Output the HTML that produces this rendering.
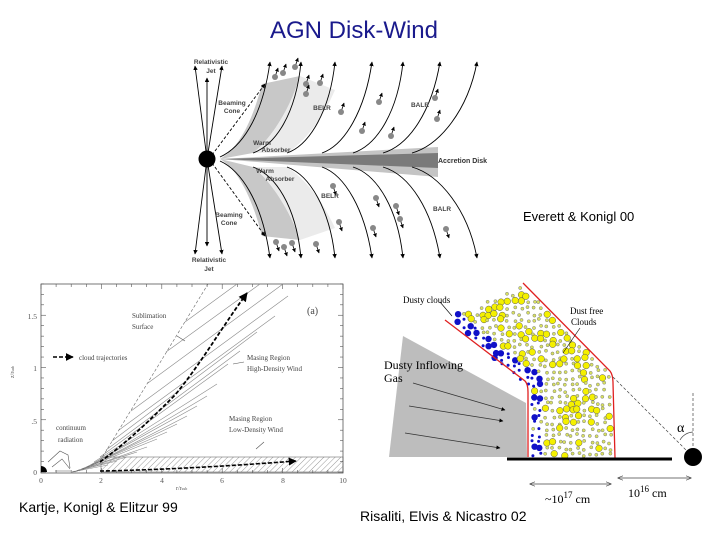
<!DOCTYPE html>
<html><head><meta charset="utf-8"><style>
html,body{margin:0;padding:0;background:#fff;}
svg{display:block;font-family:"Liberation Sans",sans-serif;}
.s{font-family:"Liberation Serif",serif;}
</style></head><body>
<svg id="c" width="720" height="540" viewBox="0 0 720 540" xmlns="http://www.w3.org/2000/svg">
<defs>
<marker id="ah" viewBox="0 0 10 10" refX="9" refY="5" markerWidth="5" markerHeight="5" orient="auto"><path d="M0,0L10,5L0,10z" fill="#000"/></marker>
<marker id="ao" viewBox="0 0 10 10" refX="9" refY="5" markerWidth="7" markerHeight="7" orient="auto"><path d="M0,1L10,5L0,9" fill="none" stroke="#444" stroke-width="1.2"/></marker>
<marker id="ao2" viewBox="0 0 10 10" refX="1" refY="5" markerWidth="7" markerHeight="7" orient="auto"><path d="M10,1L0,5L10,9" fill="none" stroke="#444" stroke-width="1.2"/></marker>
<pattern id="hatch" width="4" height="4" patternUnits="userSpaceOnUse" patternTransform="rotate(45)"><line x1="0" y1="0" x2="0" y2="4" stroke="#555" stroke-width="0.6"/></pattern>
</defs>
<text x="354" y="38" text-anchor="middle" font-size="24" fill="#1a1a8c">AGN Disk-Wind</text>

<!-- Panel 1 -->
<g id="p1">
<path d="M220,159 C235,150 250,130 262,84 L300,76 C290,110 270,140 253,153 Z" fill="#c8c8c8"/>
<path d="M253,153 C270,140 290,110 300,76 L335,90 C320,125 300,145 287,153 Z" fill="#ebebeb"/>
<path d="M220,159 C235,168 250,190 262,236 L300,240 C290,210 270,180 253,167 Z" fill="#c8c8c8"/>
<path d="M253,167 C270,180 290,210 300,240 L335,228 C320,195 300,175 287,167 Z" fill="#ebebeb"/>
<path d="M220,159 L438,147 L438,177 Z" fill="#c4c4c4"/>
<path d="M220,159 L438,153 L438,168 Z" fill="#7a7a7a"/>
<text x="438" y="163" font-size="7" font-weight="bold" fill="#333">Accretion Disk</text>
<g stroke="#000" stroke-width="0.9" fill="none" marker-end="url(#ah)">
<line x1="207" y1="159" x2="195" y2="66"/><line x1="207" y1="159" x2="207" y2="78"/><line x1="207" y1="159" x2="222" y2="66"/>
<line x1="207" y1="159" x2="195" y2="254"/><line x1="207" y1="159" x2="207" y2="246"/><line x1="207" y1="159" x2="222" y2="254"/>
<path d="M220,157 C240,148 262,120 270,62"/><path d="M253,153 C275,145 296,115 301,62"/><path d="M287,153 C310,145 330,110 335,62"/><path d="M322,153 C345,145 365,110 372,62"/><path d="M353,153 C378,145 398,110 403,62"/><path d="M383,153 C410,145 432,110 440,62"/><path d="M412,153 C440,145 468,110 477,62"/>
<path d="M220,161 C240,170 262,200 270,258"/><path d="M253,167 C275,175 296,205 301,258"/><path d="M287,167 C310,175 330,210 335,258"/><path d="M322,167 C345,175 365,210 372,258"/><path d="M353,167 C378,175 398,210 403,258"/><path d="M383,167 C410,175 432,210 440,258"/><path d="M412,167 C440,175 468,210 477,258"/>
</g>
<g stroke="#000" stroke-width="0.9" stroke-dasharray="3,2" fill="none" marker-end="url(#ah)">
<line x1="212" y1="155" x2="265" y2="84"/><line x1="212" y1="163" x2="265" y2="236"/>
</g>
<circle cx="207" cy="159" r="8.5" fill="#000"/>
<g id="dots"></g>
<g font-size="6.5" font-weight="bold" fill="#444" text-anchor="middle">
<text x="211" y="64">Relativistic</text><text x="211" y="73">Jet</text>
<text x="209" y="262">Relativistic</text><text x="209" y="271">Jet</text>
<text x="232" y="105">Beaming</text><text x="232" y="113">Cone</text>
<text x="229" y="217">Beaming</text><text x="229" y="225">Cone</text>
<text x="322" y="110">BELR</text><text x="420" y="107">BALR</text>
<text x="330" y="198">BELR</text><text x="442" y="211">BALR</text>
<text x="262" y="145">Warm</text><text x="276" y="152">Absorber</text>
<text x="265" y="173">Warm</text><text x="280" y="181">Absorber</text>
</g>
</g>
<text x="523" y="221" font-size="13" fill="#000">Everett &amp; Konigl 00</text>

<!-- Panel 2 -->
<g id="p2">
<rect x="41" y="284" width="302" height="189" fill="none" stroke="#555" stroke-width="0.8"/>
<g id="ticks" stroke="#555" stroke-width="0.6"></g>
<rect x="101" y="457" width="242" height="15" fill="url(#hatch)" stroke="#555" stroke-width="0.5"/>
<g stroke="#888" stroke-width="0.6">
<line x1="185" y1="322" x2="237" y2="284"/>
<line x1="166" y1="352" x2="260" y2="284"/>
<line x1="148" y1="383" x2="283" y2="284"/>
<line x1="131" y1="411" x2="288" y2="296"/>
<line x1="119" y1="430" x2="275" y2="316"/>
<line x1="112" y1="441" x2="257" y2="332"/>
<line x1="106" y1="450" x2="240" y2="351"/>
<line x1="100" y1="457" x2="228" y2="364"/>
<line x1="94" y1="462" x2="217" y2="384"/>
<line x1="89" y1="466" x2="207" y2="396"/>
<line x1="85" y1="468" x2="197" y2="406"/>
<line x1="82" y1="470" x2="187" y2="416"/>
<line x1="79" y1="471" x2="177" y2="424"/>
<line x1="77" y1="471" x2="167" y2="432"/>
<line x1="75" y1="472" x2="157" y2="439"/>
<line x1="74" y1="472" x2="147" y2="447"/>
<line x1="73" y1="472" x2="137" y2="452"/>
<line x1="73" y1="472" x2="127" y2="457"/>
<line x1="72" y1="472" x2="117" y2="461"/>
<line x1="72" y1="472" x2="108" y2="465"/>
</g>
<path d="M72,472 Q90,467 100,461 L208,284" fill="none" stroke="#666" stroke-width="0.6" stroke-dasharray="3,2"/>
<path d="M100,462 C130,440 150,420 175,395 C200,365 220,330 247,293" fill="none" stroke="#000" stroke-width="1.8" stroke-dasharray="4,2" marker-end="url(#ah)"/>
<path d="M100,471 C160,470 230,466 296,461" fill="none" stroke="#000" stroke-width="1.6" stroke-dasharray="4,2" marker-end="url(#ah)"/>
<line x1="53" y1="357" x2="73" y2="357" stroke="#000" stroke-width="1.6" stroke-dasharray="4,2" marker-end="url(#ah)"/>
<path d="M41,466 A6,6 0 0 1 47,472 L41,472Z" fill="#000"/>
<g fill="#555" font-size="7.5" class="s">
<text x="37" y="319" text-anchor="end">1.5</text><text x="37" y="371" text-anchor="end">1</text><text x="37" y="424" text-anchor="end">.5</text><text x="37" y="475" text-anchor="end">0</text>
<text x="41" y="483" text-anchor="middle">0</text><text x="101" y="483" text-anchor="middle">2</text><text x="162" y="483" text-anchor="middle">4</text><text x="222" y="483" text-anchor="middle">6</text><text x="283" y="483" text-anchor="middle">8</text><text x="343" y="483" text-anchor="middle">10</text>
<text x="176" y="490" font-size="6">r/r<tspan font-size="4">sub</tspan></text>
<text transform="translate(14,378) rotate(-90)" font-size="6">z/r<tspan font-size="4">sub</tspan></text>
</g>
<g class="s" fill="#444" font-size="7">
<text x="132" y="318">Sublimation</text><text x="132" y="329">Surface</text>
<text x="79" y="360">cloud trajectories</text>
<text x="247" y="360">Masing Region</text><text x="247" y="371">High-Density Wind</text>
<text x="229" y="421">Masing Region</text><text x="229" y="432">Low-Density Wind</text>
<text x="56" y="430">continuum</text><text x="58" y="442">radiation</text>
<text x="307" y="314" font-size="10">(a)</text>
</g>
<g stroke="#555" stroke-width="0.6" fill="none">
<line x1="177" y1="336" x2="185" y2="341"/><line x1="244" y1="362" x2="233" y2="364"/><line x1="264" y1="442" x2="256" y2="449"/>
<path d="M48,462 L60,451 L68,455 L70,468 M52,467 L62,459 L70,469 M55,471 L71,471"/>
</g>
</g>
<text x="19" y="512" font-size="14" fill="#000">Kartje, Konigl &amp; Elitzur 99</text>

<!-- Panel 3 -->
<g id="p3">
<path d="M403,336 L526,403 L527,457 L389,457 Z" fill="#bdbdbd"/>
<g stroke="#333" stroke-width="0.8" marker-end="url(#ah)">
<line x1="413" y1="383" x2="505" y2="410"/><line x1="409" y1="406" x2="503" y2="421"/><line x1="405" y1="433" x2="500" y2="448"/>
</g>
<g id="clouds"></g>
<path d="M445,320 L525,381 Q528,384 528,392 L528,457" fill="none" stroke="#e02020" stroke-width="1.3"/>
<path d="M523,283 L610,371 Q613,375 613,383 L615,458" fill="none" stroke="#e02020" stroke-width="1.3"/>
<line x1="507" y1="459" x2="672" y2="459" stroke="#000" stroke-width="3"/>
<line x1="613" y1="377" x2="686" y2="450" stroke="#444" stroke-width="0.7" stroke-dasharray="3,2"/>
<line x1="693" y1="393" x2="693" y2="448" stroke="#444" stroke-width="0.7" stroke-dasharray="3,2"/>
<path d="M680,440 A16,16 0 0 1 693,432" fill="none" stroke="#444" stroke-width="0.7"/>
<circle cx="693" cy="457" r="9" fill="#000"/>
<text x="677" y="432" class="s" font-size="14">α</text>
<line x1="530" y1="484" x2="611" y2="484" stroke="#444" stroke-width="0.8" marker-end="url(#ao)" marker-start="url(#ao2)"/>
<line x1="618" y1="478" x2="691" y2="478" stroke="#444" stroke-width="0.8" marker-end="url(#ao)" marker-start="url(#ao2)"/>
<g class="s" fill="#000">
<text x="545" y="503" font-size="12">~10<tspan font-size="9" dy="-5">17</tspan><tspan dy="5"> cm</tspan></text>
<text x="628" y="497" font-size="12">10<tspan font-size="9" dy="-5">16</tspan><tspan dy="5"> cm</tspan></text>
<text x="403" y="303" font-size="9">Dusty clouds</text>
<text x="570" y="314" font-size="9">Dust free</text><text x="571" y="325" font-size="9">Clouds</text>
<text x="384" y="369" font-size="12">Dusty Inflowing</text><text x="384" y="382" font-size="12">Gas</text>
</g>
<line x1="440" y1="302" x2="452" y2="316" stroke="#000" stroke-width="0.6"/>
<line x1="580" y1="328" x2="563" y2="353" stroke="#000" stroke-width="0.6"/>
</g>
<text x="360" y="521" font-size="14" fill="#000">Risaliti, Elvis &amp; Nicastro 02</text>
</svg>
<script>
(function(){
var NS="http://www.w3.org/2000/svg";
var s=7;function r(){s=(s*16807)%2147483647;return s/2147483647;}
function el(p,t,a){var e=document.createElementNS(NS,t);for(var k in a)e.setAttribute(k,a[k]);p.appendChild(e);return e;}
var d=document.getElementById("dots");
var pts=[[275,77,-1],[283,73,-1],[295,67,-1],[306,84,-1],[320,83,-1],[306,94,-1],[341,112,-1],[379,102,-1],[362,131,-1],[391,136,-1],[435,98,-1],[437,119,-1],[276,242,1],[284,247,1],[292,243,1],[316,244,1],[333,186,1],[339,222,1],[376,198,1],[396,206,1],[400,219,1],[373,228,1],[446,229,1]];
pts.forEach(function(p){el(d,"line",{x1:p[0],y1:p[1],x2:p[0]+3,y2:p[1]+p[2]*9,stroke:"#000","stroke-width":"0.8","marker-end":"url(#ah)"});el(d,"circle",{cx:p[0],cy:p[1],r:3,fill:"#888"});});
var t=document.getElementById("ticks");
for(var i=0;i<=20;i++){var x=41+i*15.1;var L=(i%4==0)?5:3;
 el(t,"line",{x1:x,y1:473,x2:x,y2:473-L});el(t,"line",{x1:x,y1:284,x2:x,y2:284+L});}
for(var j=0;j<=18;j++){var y=472-j*10.45;var L2=(j%5==0)?5:3;
 el(t,"line",{x1:41,y1:y,x2:41+L2,y2:y});el(t,"line",{x1:343,y1:y,x2:343-L2,y2:y});}
var c=document.getElementById("clouds");
var P=[[448,318],[523,286],[609,373],[612,456],[530,456],[530,388]];
function inside(x,y){var ins=false;
 for(var i=0,j=P.length-1;i<P.length;j=i++){var xi=P[i][0],yi=P[i][1],xj=P[j][0],yj=P[j][1];
 if(((yi>y)!=(yj>y))&&(x<(xj-xi)*(y-yi)/(yj-yi)+xi))ins=!ins;}return ins;}
function leftDist(x,y){ if(y<383){return ((x-445)*61-(y-320)*80)/Math.sqrt(61*61+80*80);} return x-528;}
var g=6.4;
for(var yy=282;yy<460;yy+=g){for(var xx=444;xx<616;xx+=g){
 var x=xx+(r()-0.5)*3.5,y=yy+(r()-0.5)*3.5; if(!inside(x,y))continue;
 var ld=leftDist(x,y);
 if(ld<13 && r()<0.92){var big=r()<0.45;el(c,"circle",{cx:x.toFixed(1),cy:y.toFixed(1),r:big?3.2:1.5,fill:"#1010c8"});}
 else if(r()<0.3){el(c,"circle",{cx:x.toFixed(1),cy:y.toFixed(1),r:3.3,fill:"#f4f000",stroke:"#555","stroke-width":"0.5"});}
 else{el(c,"circle",{cx:x.toFixed(1),cy:y.toFixed(1),r:1.6,fill:"#d8e060",stroke:"#667","stroke-width":"0.4"});}
}}
})();
</script>
</body></html>
